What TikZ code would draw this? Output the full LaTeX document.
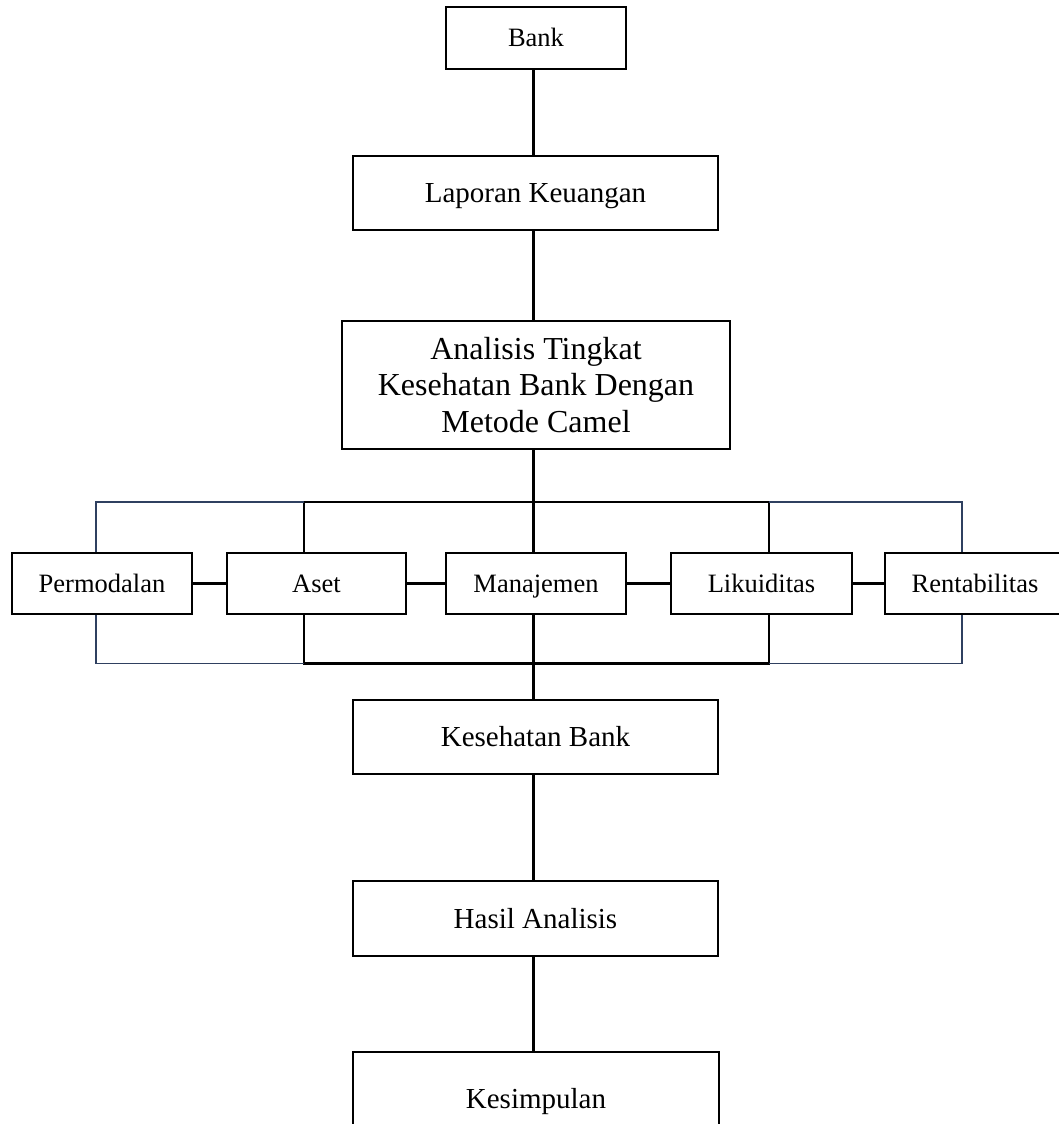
\documentclass[tikz,border=0pt]{standalone}
\usepackage{fontspec}
\setmainfont{Liberation Serif}
\usetikzlibrary{calc}
\definecolor{navy}{RGB}{47,64,96}
\begin{document}
\begin{tikzpicture}[x=1pt,y=-1pt,
  box/.style={draw, line width=1.3pt, rectangle, inner sep=0pt, text depth=0pt},
  small/.style={font=\fontsize{26.5}{30}\selectfont, text height=17.5pt},
  mid/.style={font=\fontsize{29}{33}\selectfont, text height=19.2pt},
  spine/.style={line width=3pt},
  bus/.style={line width=2.2pt},
  side/.style={line width=1.6pt, draw=navy},
  link/.style={line width=2.2pt}]
\useasboundingbox (0,0) rectangle (1059,1124);
% main column
\node[box, small, minimum width=180, minimum height=62] (bank) at (536,38) {Bank};
\node[box, mid, minimum width=365, minimum height=74] (lap) at (535.5,193) {Laporan Keuangan};
\node[box, minimum width=388, minimum height=128, align=center, text height=94.2pt, text depth=0pt, font=\fontsize{32}{36.5}\selectfont] (an) at (536,385) {Analisis Tingkat\\Kesehatan Bank Dengan\\Metode Camel};
% CAMEL row
\node[box, small, minimum width=180, minimum height=61] (perm) at (102,583.5) {Permodalan};
\node[box, small, minimum width=179, minimum height=61] (aset) at (316.5,583.5) {Aset};
\node[box, small, minimum width=180, minimum height=61] (man) at (536,583.5) {Manajemen};
\node[box, small, minimum width=181, minimum height=61] (lik) at (761.5,583.5) {Likuiditas};
\node[box, small, minimum width=180, minimum height=61] (rent) at (975,583.5) {Rentabilitas};
% lower column
\node[box, mid, minimum width=365, minimum height=74] (kes) at (535.5,737) {Kesehatan Bank};
\node[box, mid, minimum width=365, minimum height=75] (has) at (535.5,918.5) {Hasil Analisis};
\node[box, mid, minimum width=366, minimum height=93] (kesim) at (536,1098.5) {Kesimpulan};
% spine
\coordinate (sp) at (533,0);
\draw[spine] (bank.south -| sp) -- (lap.north -| sp);
\draw[spine] (lap.south -| sp) -- (an.north -| sp);
\draw[spine] (an.south -| sp) -- (man.north -| sp);
\draw[spine] (man.south -| sp) -- (kes.north -| sp);
\draw[spine] (kes.south -| sp) -- (has.north -| sp);
\draw[spine] (has.south -| sp) -- (kesim.north -| sp);
% buses
\coordinate (tl) at (96,502);
\coordinate (ta) at (304,502);
\coordinate (tk) at (769,502);
\coordinate (tr) at (962,502);
\coordinate (bl) at (96,663.5);
\coordinate (ba) at (304,663.5);
\coordinate (bk) at (769,663.5);
\coordinate (br) at (962,663.5);
\draw[bus] (aset.north -| ta) -- (ta) -- (tk) -- (lik.north -| tk);
\draw[bus] (aset.south -| ba) -- (ba) -- (bk) -- (lik.south -| bk);
\draw[side] (perm.north -| tl) -- (tl) -- (ta);
\draw[side] (tk) -- (tr) -- (rent.north -| tr);
\draw[side] (perm.south -| bl) -- (bl) -- (ba);
\draw[side] (bk) -- (br) -- (rent.south -| br);
% row links
\draw[link] (perm.east) -- (aset.west);
\draw[link] (aset.east) -- (man.west);
\draw[link] (man.east) -- (lik.west);
\draw[link] (lik.east) -- (rent.west);
\end{tikzpicture}
\end{document}
